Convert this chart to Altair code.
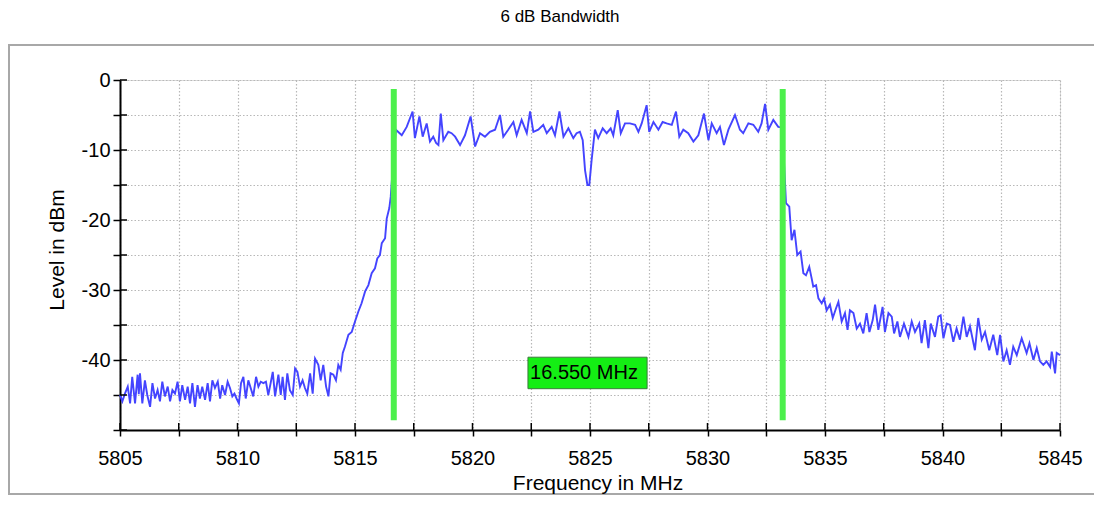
import altair as alt
import pandas as pd

# ---------------- data ----------------
floor_freq = [5805.00, 5805.10, 5805.21, 5805.33, 5805.43, 5805.52, 5805.64, 5805.75, 5805.80, 5805.85,
              5805.95, 5806.06, 5806.16, 5806.28, 5806.38, 5806.49, 5806.60, 5806.70, 5806.80, 5806.91,
              5807.03, 5807.13, 5807.23, 5807.34, 5807.45, 5807.55, 5807.65, 5807.77, 5807.88, 5807.98,
              5808.08, 5808.19, 5808.30, 5808.40, 5808.50, 5808.62, 5808.73, 5808.83, 5808.93, 5809.04,
              5809.16, 5809.26, 5809.35, 5809.47, 5809.58, 5809.68, 5809.78, 5809.87, 5809.96, 5810.06,
              5810.15, 5810.25, 5810.35, 5810.46,
              5810.67, 5810.79, 5810.89, 5810.99, 5811.10, 5811.21, 5811.31, 5811.41, 5811.50, 5811.60,
              5811.74, 5811.84, 5811.92, 5812.02, 5812.12, 5812.23, 5812.35, 5812.45, 5812.55, 5812.66,
              5812.77, 5812.87, 5812.97, 5813.09, 5813.20, 5813.30, 5813.44, 5813.54, 5813.65, 5813.77,
              5813.87, 5813.96, 5814.08, 5814.19, 5814.29, 5814.39, 5814.48]
floor_level = [-45.0, -45.9, -44.8, -43.8, -46.2, -42.4, -46.2, -42.1, -44.9, -41.9,
               -46.2, -42.9, -45.0, -46.7, -43.3, -45.5, -44.3, -45.9, -43.1, -45.2,
               -43.8, -45.9, -44.3, -44.8, -43.1, -45.9, -43.6, -45.7, -43.8, -46.2,
               -43.3, -46.7, -43.6, -45.5, -43.8, -45.7, -43.3, -45.9, -42.9, -44.0,
               -43.1, -45.5, -43.6, -45.0, -43.1, -44.0, -45.2, -44.8, -45.5, -46.2,
               -43.3, -42.4, -45.5, -42.9,
               -45.2, -42.4, -43.8, -43.1, -43.3, -43.1, -45.0, -43.3, -41.7, -45.2,
               -42.1, -45.0, -42.4, -45.7, -41.9, -44.3, -45.0, -41.2, -41.7, -43.8,
               -42.9, -44.0, -44.8, -41.9, -44.8, -39.8, -40.7, -42.9, -40.7, -43.8,
               -45.2, -41.9, -42.1, -42.9, -40.7, -41.4, -39.0]

rise_freq = [5814.57, 5814.72, 5814.86, 5815.00, 5815.14, 5815.28, 5815.43, 5815.57, 5815.71,
             5815.85, 5815.95, 5816.06, 5816.14, 5816.28, 5816.35, 5816.46, 5816.52, 5816.62]
rise_level = [-38.1, -36.4, -36.0, -34.5, -33.1, -31.9, -30.2, -29.3, -27.6,
              -26.9, -25.5, -25.0, -23.3, -22.6, -19.8, -18.3, -16.7, -12.0]

band_freq = [5816.74, 5816.99, 5817.20, 5817.45, 5817.55, 5817.74, 5817.88, 5818.05, 5818.19, 5818.33,
             5818.45, 5818.55, 5818.65, 5818.76, 5818.97, 5819.11, 5819.26, 5819.47, 5819.68, 5819.92,
             5820.11, 5820.32, 5820.53, 5820.74, 5820.96, 5821.17, 5821.31, 5821.52, 5821.74, 5821.88,
             5822.09, 5822.31, 5822.45, 5822.59, 5822.80, 5823.01, 5823.16, 5823.37, 5823.51, 5823.70,
             5823.87, 5824.08, 5824.29, 5824.43, 5824.57, 5824.69, 5824.79, 5824.89, 5824.97, 5825.07,
             5825.21, 5825.35, 5825.54, 5825.71, 5825.88, 5825.99, 5826.18, 5826.31, 5826.49, 5826.70,
             5826.92, 5827.06, 5827.20, 5827.41, 5827.52, 5827.70, 5827.91, 5828.09, 5828.26, 5828.48,
             5828.66, 5828.80, 5828.97, 5829.18, 5829.40, 5829.61, 5829.85, 5830.04, 5830.18, 5830.39,
             5830.53, 5830.70, 5830.89, 5831.17, 5831.38, 5831.52, 5831.74, 5831.95, 5832.16, 5832.30,
             5832.45, 5832.59, 5832.80, 5833.01, 5833.20]
band_level = [-7.1, -7.9, -6.7, -4.5, -8.3, -5.2, -8.1, -6.2, -8.8, -8.1,
              -9.0, -9.3, -4.8, -8.6, -7.4, -7.6, -8.1, -9.3, -7.9, -5.2,
              -9.5, -7.6, -8.1, -7.4, -7.1, -5.0, -8.1, -7.1, -6.0, -7.9,
              -5.7, -7.6, -4.5, -7.4, -7.1, -6.4, -7.6, -6.7, -7.9, -4.5,
              -8.1, -6.9, -8.3, -7.6, -7.4, -8.6, -12.9, -15.0, -15.0, -11.4,
              -7.1, -8.3, -6.9, -7.6, -6.9, -7.9, -4.3, -7.6, -6.2, -6.2,
              -6.4, -7.4, -6.2, -3.6, -7.4, -6.0, -7.1, -6.0, -6.2, -6.4,
              -4.5, -8.1, -7.1, -7.6, -8.8, -7.9, -4.8, -8.6, -6.2, -7.6,
              -6.7, -9.3, -7.1, -5.0, -7.1, -7.6, -6.2, -6.4, -7.4, -6.2,
              -3.4, -7.1, -5.7, -6.7, -6.8]

fall_freq = [5833.26, 5833.34, 5833.48, 5833.58, 5833.70, 5833.82, 5833.96, 5834.08, 5834.19, 5834.33,
             5834.43, 5834.50, 5834.62, 5834.72, 5834.86, 5834.96, 5835.07, 5835.21, 5835.33, 5835.47,
             5835.57, 5835.71, 5835.85, 5835.96, 5836.06, 5836.21, 5836.35, 5836.49, 5836.63, 5836.77,
             5836.89, 5837.03, 5837.13, 5837.27, 5837.45, 5837.55, 5837.70, 5837.84, 5837.94, 5838.08,
             5838.19, 5838.36, 5838.55, 5838.69, 5838.83, 5839.01, 5839.11, 5839.25, 5839.40, 5839.50,
             5839.68, 5839.82, 5839.92, 5840.04, 5840.18, 5840.32, 5840.46, 5840.60, 5840.74, 5840.89,
             5841.03, 5841.17, 5841.38, 5841.52, 5841.67, 5841.81, 5841.99, 5842.16, 5842.33, 5842.45,
             5842.59, 5842.73, 5842.87, 5843.01, 5843.16, 5843.37, 5843.58, 5843.70, 5843.87, 5844.01,
             5844.15, 5844.29, 5844.43, 5844.58, 5844.65, 5844.79, 5844.86, 5845.00]
fall_level = [-12.0, -17.6, -18.1, -22.9, -21.4, -25.0, -24.5, -27.6, -27.9, -26.7,
              -28.3, -29.5, -29.3, -31.2, -31.9, -31.2, -32.9, -32.1, -34.0, -32.6,
              -31.7, -34.5, -33.3, -35.7, -32.9, -33.3, -35.5, -34.8, -36.2, -33.3,
              -36.0, -34.3, -32.1, -35.7, -32.4, -36.0, -33.3, -33.8, -36.2, -34.5,
              -36.7, -34.8, -36.7, -34.5, -36.0, -34.8, -37.6, -34.3, -38.3, -34.8,
              -36.7, -33.8, -33.6, -36.9, -34.8, -35.0, -37.4, -35.5, -37.1, -33.8,
              -36.7, -35.2, -38.6, -34.0, -37.1, -36.0, -38.6, -36.4, -39.3, -36.4,
              -40.2, -38.6, -40.7, -38.1, -39.3, -36.9, -39.0, -37.6, -40.0, -38.3,
              -40.2, -40.7, -40.2, -41.0, -38.8, -41.9, -39.0, -39.3]

marker_freq = [5816.65, 5833.20]
marker_top = [-1.3, -1.3]
marker_bottom = [-48.6, -48.6]

bw_label = ["16.550 MHz"]
bw_box_x = [5822.36]
bw_box_x2 = [5827.43]
bw_box_y = [-39.6]
bw_box_y2 = [-44.1]
bw_text_x = [5822.45]
bw_text_y = [-41.9]

x_ticks = [5805, 5807.5, 5810, 5812.5, 5815, 5817.5, 5820, 5822.5, 5825,
           5827.5, 5830, 5832.5, 5835, 5837.5, 5840, 5842.5, 5845]
y_ticks = [0, -5, -10, -15, -20, -25, -30, -35, -40, -45, -50]

title_text = "6 dB Bandwidth"
x_title = "Frequency in MHz"
y_title = "Level in dBm"

# ---------------- tables ----------------
trace = pd.DataFrame({
    "freq": floor_freq + rise_freq + band_freq + fall_freq,
    "level": floor_level + rise_level + band_level + fall_level,
})
markers = pd.DataFrame({"freq": marker_freq, "top": marker_top, "bottom": marker_bottom})
box = pd.DataFrame({"x": bw_box_x, "x2": bw_box_x2, "y": bw_box_y, "y2": bw_box_y2,
                    "tx": bw_text_x, "ty": bw_text_y, "label": bw_label})
xt = pd.DataFrame({"t": x_ticks})
yt = pd.DataFrame({"t": y_ticks})

FONT = "Liberation Sans"
W, H = 940, 350
xs = alt.Scale(domain=[5805, 5845], nice=False, zero=False)
ys = alt.Scale(domain=[-50, 0], nice=False, zero=False)

x_axis = alt.Axis(values=x_ticks, labelExpr="datum.value % 5 == 0 ? '' + datum.value : ''",
                  title=None, grid=True, gridColor="#b8b8b8", gridDash=[1.5, 2], gridWidth=1.2,
                  domain=True, domainColor="black", domainWidth=2,
                  ticks=True, tickColor="black", tickWidth=1.5, tickSize=6,
                  labels=True, labelFont=FONT, labelFontSize=20, labelColor="black", labelPadding=12,
                  labelFlush=False, labelOverlap=False)
y_axis = alt.Axis(values=y_ticks,
                  labelExpr="(datum.value % 10 == 0 && datum.value > -50) ? '' + datum.value : ''",
                  title=None, grid=True, gridColor="#b8b8b8", gridDash=[1.5, 2], gridWidth=1.2,
                  domain=True, domainColor="black", domainWidth=2,
                  ticks=True, tickColor="black", tickWidth=1.5, tickSize=7,
                  labels=True, labelFont=FONT, labelFontSize=20, labelColor="black", labelPadding=3,
                  labelFlush=False, labelOverlap=False)

frame = alt.Chart(alt.Data(values=[{}])).mark_rect(
    fillOpacity=0, stroke="#a8a8a8", strokeWidth=2
).encode(x=alt.value(-111), x2=alt.value(1000), y=alt.value(-35), y2=alt.value(414))

line = alt.Chart(trace).mark_line(color="#4444ff", strokeWidth=1.9).encode(
    x=alt.X("freq:Q", scale=xs, axis=x_axis),
    y=alt.Y("level:Q", scale=ys, axis=y_axis),
)

xin = alt.Chart(xt).mark_rule(color="black", strokeWidth=1.5).encode(
    x=alt.X("t:Q", scale=xs, axis=x_axis), y=alt.value(H), y2=alt.value(H - 7))
yin = alt.Chart(yt).mark_rule(color="black", strokeWidth=1.5).encode(
    y=alt.Y("t:Q", scale=ys, axis=y_axis), x=alt.value(0), x2=alt.value(7))

mk = alt.Chart(markers).mark_rule(color="#4cf04c", strokeWidth=6).encode(
    x=alt.X("freq:Q", scale=xs, axis=x_axis),
    y=alt.Y("top:Q", scale=ys, axis=y_axis), y2="bottom:Q")

bx = alt.Chart(box).mark_rect(color="#14ee14", stroke="#3c7a3c", strokeWidth=1).encode(
    x=alt.X("x:Q", scale=xs, axis=x_axis), x2="x2:Q",
    y=alt.Y("y:Q", scale=ys, axis=y_axis), y2="y2:Q")
bt = alt.Chart(box).mark_text(align="left", baseline="middle", font=FONT, fontSize=20,
                              color="black").encode(
    x=alt.X("tx:Q", scale=xs, axis=x_axis), y=alt.Y("ty:Q", scale=ys, axis=y_axis), text="label:N")

ttl = alt.Chart(alt.Data(values=[{"t": title_text}])).mark_text(
    font=FONT, fontSize=17, color="black", align="center", baseline="middle"
).encode(x=alt.value(440), y=alt.value(-63), text="t:N")
xtt = alt.Chart(alt.Data(values=[{"t": x_title}])).mark_text(
    font=FONT, fontSize=21, color="black", align="center", baseline="bottom"
).encode(x=alt.value(478), y=alt.value(414), text="t:N")
ytt = alt.Chart(alt.Data(values=[{"t": y_title}])).mark_text(
    font=FONT, fontSize=21, color="black", align="center", baseline="middle", angle=270
).encode(x=alt.value(-62), y=alt.value(170), text="t:N")

chart = alt.layer(line, frame, xin, yin, mk, bx, bt, ttl, xtt, ytt).properties(
    width=W, height=H,
    autosize=alt.AutoSizeParams(type="none"),
    padding={"left": 112, "top": 72, "right": 34, "bottom": 65},
).configure_view(strokeWidth=0).configure(background="white")

chart.save("out.html", embed_options={"renderer": "svg", "actions": False})
